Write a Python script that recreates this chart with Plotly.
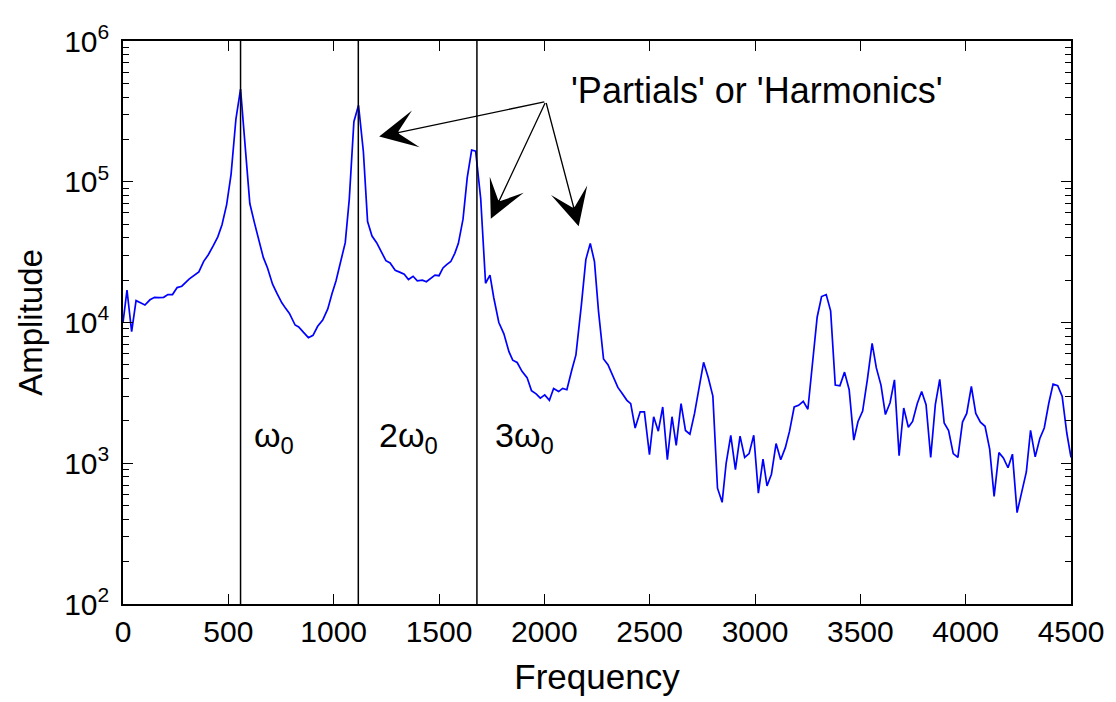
import plotly.graph_objects as go

freq = [0, 19, 41, 62, 83, 104, 128, 150, 172, 193, 213, 235, 257, 279, 315, 338, 360, 383, 405, 428,
        450, 470, 492, 513, 536, 558, 580, 602, 624, 647, 666, 686, 710, 732, 754, 772, 790, 817, 834, 857,
        880, 902, 924, 948, 972, 992, 1011, 1033, 1055, 1074, 1096, 1118, 1141, 1161, 1182, 1204, 1226, 1248, 1268, 1292,
        1313, 1335, 1355, 1377, 1397, 1421, 1440, 1460, 1481, 1500, 1519, 1535, 1556, 1575, 1592, 1614, 1634, 1655, 1674, 1698,
        1721, 1742, 1760, 1784, 1808, 1832, 1850, 1871, 1894, 1918, 1939, 1961, 1981, 2002, 2024, 2044, 2068, 2087, 2107, 2131,
        2150, 2176, 2197, 2218, 2238, 2257, 2281, 2302, 2324, 2349, 2368, 2392, 2410, 2431, 2455, 2475, 2499, 2519, 2541, 2562,
        2584, 2606, 2626, 2649, 2670, 2691, 2713, 2734, 2756, 2778, 2800, 2822, 2844, 2863, 2885, 2907, 2929, 2951, 2972, 2994,
        3016, 3038, 3057, 3078, 3100, 3122, 3144, 3164, 3186, 3207, 3229, 3251, 3273, 3295, 3316, 3338, 3359, 3381, 3403, 3425,
        3447, 3469, 3489, 3511, 3534, 3556, 3576, 3598, 3619, 3641, 3662, 3684, 3706, 3728, 3748, 3770, 3791, 3812, 3834, 3856,
        3877, 3898, 3919, 3941, 3963, 3985, 4005, 4027, 4048, 4070, 4092, 4114, 4135, 4158, 4179, 4201, 4222, 4244, 4265, 4288,
        4308, 4330, 4352, 4373, 4395, 4415, 4437, 4458, 4480, 4500]

amplitude = [10000, 17000, 8600, 14300, 13800, 13300, 14500, 15100, 15000, 15100, 15800, 15800, 17700, 18100, 20400, 21500, 22900, 27200, 30300, 35000,
             40600, 49500, 68800, 113000, 279000, 455000, 180000, 70000, 51000, 36900, 29000, 24400, 18700, 16000, 13800, 12600, 11600, 9600, 9300, 8500,
             7800, 8100, 9400, 10400, 12500, 16000, 19700, 27000, 36900, 75000, 267000, 349000, 164000, 52200, 41100, 36900, 31500, 27500, 26500, 23500,
             22800, 22000, 20200, 21300, 19800, 20000, 19500, 20500, 21700, 21500, 24400, 25700, 27100, 31000, 36500, 54200, 107000, 168000, 165000, 75700,
             19000, 21700, 15000, 10000, 8300, 6200, 5400, 5200, 4500, 4060, 3280, 3110, 2900, 3060, 2800, 3400, 3230, 3400, 3330, 4630,
             5890, 13400, 28000, 36500, 27100, 12100, 5500, 5020, 4170, 3460, 3160, 2800, 2650, 1780, 2320, 2320, 1150, 2140, 1690, 2510,
             1060, 2140, 1340, 2650, 1710, 1610, 2260, 3330, 5210, 4060, 3000, 665, 528, 1000, 1580, 900, 1560, 1100, 1170, 1580,
             614, 1070, 690, 836, 1380, 1060, 1290, 1690, 2510, 2580, 2750, 2420, 5210, 10900, 15300, 15800, 12100, 3590, 3550, 4440,
             3330, 1460, 1980, 2350, 3990, 7100, 4760, 3590, 2220, 2690, 3910, 1130, 2470, 1800, 1980, 2650, 3230, 2610, 1100, 2610,
             3950, 1930, 1710, 1170, 1100, 1960, 2260, 3510, 2260, 1960, 1830, 1260, 582, 1190, 1090, 929, 1160, 446, 614, 867,
             1710, 1110, 1500, 1780, 2690, 3650, 3560, 3000, 1640, 1100]

harmonic_freqs = [558, 1117, 1680]
harmonic_labels = ["ω<sub>0</sub>", "2ω<sub>0</sub>", "3ω<sub>0</sub>"]
harmonic_label_x = [610, 1207, 1756]

x_ticks = [0, 500, 1000, 1500, 2000, 2500, 3000, 3500, 4000, 4500]
y_tickvals = [1e2, 1e3, 1e4, 1e5, 1e6]
y_ticktext = ["10<sup>2</sup>", "10<sup>3</sup>", "10<sup>4</sup>", "10<sup>5</sup>", "10<sup>6</sup>"]
y_minor = [m * 10 ** e for e in range(2, 6) for m in range(2, 10)]

annot_text = "'Partials' or 'Harmonics'"
arrow_tail = (2007, 5.57)
arrow_heads = [(1216, 5.321), (1746, 4.738), (2163, 4.683)]

FONT = "Liberation Sans, Arial, sans-serif"

fig = go.Figure()
fig.add_trace(go.Scatter(x=freq, y=amplitude, mode="lines",
                         line=dict(color="#0000ff", width=1.7), showlegend=False))

for f in harmonic_freqs:
    fig.add_shape(type="line", x0=f, x1=f, y0=0, y1=1, xref="x", yref="paper",
                  line=dict(color="black", width=1.5))

for lx, txt in zip(harmonic_label_x, harmonic_labels):
    fig.add_annotation(x=lx, y=3.18, xref="x", yref="y", text=txt, showarrow=False,
                       xanchor="left", yanchor="middle", font=dict(size=34, color="black", family=FONT))

fig.add_annotation(x=2115, y=5.645, xref="x", yref="y", text=annot_text, showarrow=False,
                   xanchor="left", yanchor="middle", font=dict(size=36, color="black", family=FONT))

for hx, hy in arrow_heads:
    fig.add_annotation(x=hx, y=hy, xref="x", yref="y", ax=arrow_tail[0], ay=arrow_tail[1],
                       axref="x", ayref="y", text="", showarrow=True,
                       arrowhead=3, arrowsize=4.8, arrowwidth=1.3, arrowcolor="black")

fig.update_layout(
    width=1108, height=694,
    margin=dict(l=115, r=42, t=22, b=95),
    paper_bgcolor="white", plot_bgcolor="white",
    font=dict(family=FONT, size=30, color="black"),
    xaxis=dict(range=[0, 4500], tickvals=x_ticks, ticks="inside", ticklen=10, tickwidth=1.2,
               tickcolor="black", showline=True, linecolor="black", linewidth=1.5, mirror="allticks",
               showgrid=False, zeroline=False,
               title=dict(text="Frequency", standoff=18, font=dict(size=35)),
               tickfont=dict(size=30)),
    yaxis=dict(type="log", range=[2, 6], tickvals=y_tickvals, ticktext=y_ticktext, ticks="inside",
               ticklen=10, tickwidth=1.2, tickcolor="black", showline=True, linecolor="black",
               linewidth=1.5, mirror="allticks", showgrid=False, zeroline=False, ticklabelstandoff=6,
               title=dict(text="Amplitude", standoff=12, font=dict(size=33)), tickfont=dict(size=30),
               minor=dict(tickvals=y_minor, ticks="inside", ticklen=6, tickwidth=1, tickcolor="black",
                          showgrid=False)),
)

fig.write_html("out.html")
